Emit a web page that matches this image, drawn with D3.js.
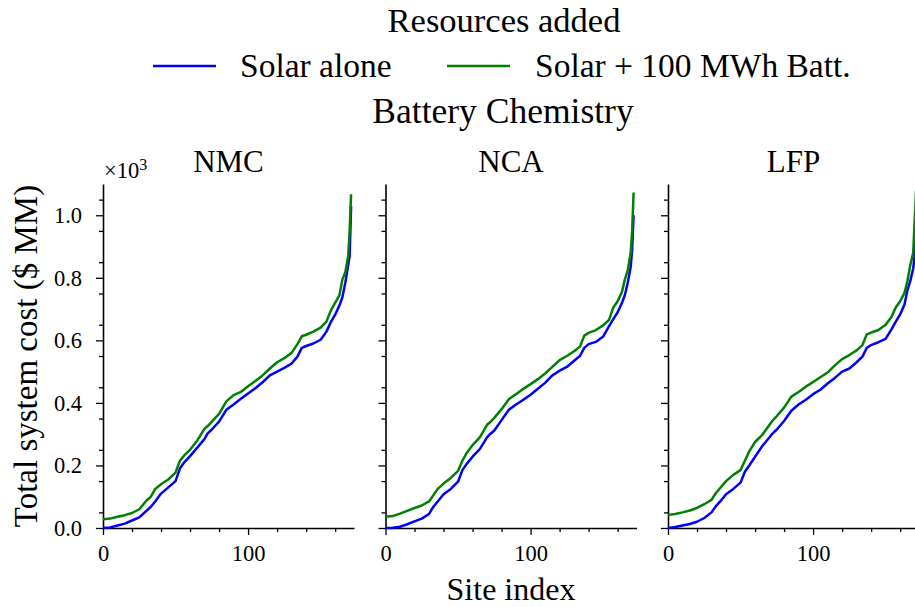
<!DOCTYPE html>
<html>
<head>
<meta charset="utf-8">
<script src="https://d3js.org/d3.v7.min.js"></script>
<style>
  body { margin: 0; background: #fff; }
  text { font-family: "Liberation Serif", "DejaVu Serif", serif; fill: #000; }
</style>
</head>
<body>
<svg width="915" height="607"></svg>
<script>
  // values (cost in thousands of $ MM)
  let chemistries = ["NMC", "NCA", "LFP"];
  let seriesNames = ["Solar alone", "Solar + 100 MWh Batt."];
  let seriesColors = ["#0000ff", "#008000"];
  let yTicks = [0, 0.2, 0.4, 0.6, 0.8, 1.0];
  let xTicks = [0, 100];

  let siteIndex = [0, 5, 10, 15, 20, 25, 30, 33, 36, 40, 45, 50, 53, 56, 60, 65, 70, 72, 75, 80, 85, 90,
    95, 100, 105, 110, 115, 120, 125, 130, 134, 137, 140, 145, 150, 154, 157, 160, 163, 165, 167, 169, 170, 171];

  let nmcSolar = [0.0, 0.002, 0.008, 0.014, 0.024, 0.034, 0.055, 0.068, 0.085, 0.11, 0.13, 0.15, 0.19, 0.21, 0.23, 0.257, 0.285,
    0.302, 0.315, 0.34, 0.378, 0.395, 0.413, 0.43, 0.447, 0.466, 0.488, 0.5, 0.512, 0.526, 0.548, 0.576,
    0.582, 0.59, 0.602, 0.628, 0.658, 0.682, 0.712, 0.738, 0.784, 0.84, 0.87, 1.03];
  let nmcBatt = [0.028, 0.03, 0.036, 0.041, 0.048, 0.06, 0.088, 0.1, 0.125, 0.14, 0.155, 0.177, 0.215, 0.232, 0.25, 0.28, 0.318,
    0.325, 0.34, 0.365, 0.405, 0.425, 0.435, 0.453, 0.47, 0.488, 0.51, 0.53, 0.543, 0.56, 0.588, 0.613,
    0.618, 0.628, 0.641, 0.66, 0.695, 0.72, 0.745, 0.795, 0.818, 0.87, 0.95, 1.067];
  let ncaSolar = [0.0, 0.001, 0.004, 0.012, 0.021, 0.03, 0.045, 0.068, 0.085, 0.108, 0.125, 0.148, 0.185, 0.205, 0.228, 0.252, 0.29,
    0.3, 0.312, 0.345, 0.378, 0.395, 0.41, 0.426, 0.445, 0.464, 0.488, 0.503, 0.515, 0.535, 0.55, 0.576,
    0.588, 0.595, 0.612, 0.645, 0.668, 0.69, 0.72, 0.745, 0.785, 0.835, 0.89, 1.0];
  let ncaBatt = [0.036, 0.038, 0.046, 0.055, 0.064, 0.072, 0.085, 0.105, 0.125, 0.142, 0.16, 0.183, 0.215, 0.24, 0.265, 0.29, 0.33,
    0.338, 0.352, 0.38, 0.412, 0.428, 0.445, 0.46, 0.476, 0.494, 0.515, 0.537, 0.55, 0.565, 0.58, 0.615,
    0.624, 0.633, 0.648, 0.665, 0.705, 0.725, 0.755, 0.795, 0.825, 0.88, 0.95, 1.073];
  let lfpSolar = [0.0, 0.003, 0.008, 0.013, 0.02, 0.032, 0.05, 0.07, 0.085, 0.108, 0.125, 0.145, 0.18, 0.2, 0.228, 0.262, 0.29,
    0.302, 0.315, 0.342, 0.375, 0.395, 0.41, 0.428, 0.442, 0.462, 0.48, 0.5, 0.51, 0.53, 0.548, 0.576,
    0.585, 0.594, 0.605, 0.635, 0.66, 0.683, 0.715, 0.76, 0.79, 0.83, 0.87, 1.0];
  let lfpBatt = [0.042, 0.045, 0.05, 0.056, 0.064, 0.076, 0.09, 0.112, 0.128, 0.15, 0.17, 0.185, 0.215, 0.245, 0.275, 0.298, 0.33,
    0.343, 0.358, 0.385, 0.42, 0.435, 0.452, 0.467, 0.482, 0.497, 0.52, 0.54, 0.553, 0.568, 0.585, 0.619,
    0.625, 0.633, 0.65, 0.675, 0.705, 0.725, 0.752, 0.79, 0.84, 0.88, 0.98, 1.08];

  let panelSeries = [[nmcSolar, nmcBatt], [ncaSolar, ncaBatt], [lfpSolar, lfpBatt]];

  let svg = d3.select("svg");

  let panelLeft = [103, 385.5, 668],
      panelWidth = 251,
      plotTop = 184,
      plotBottom = 528;

  let yScale = d3.scaleLinear().domain([0, 1.1]).range([plotBottom, plotTop]);

  // header: legend title, legend, suptitle
  svg.append("text").attr("x", 504).attr("y", 32).attr("text-anchor", "middle")
          .style("font-size", "34.5px").text("Resources added");

  let legendX = [[153, 216, 240], [447, 510, 535]];
  seriesNames.forEach(function (name, i) {
    svg.append("line")
            .attr("x1", legendX[i][0]).attr("x2", legendX[i][1])
            .attr("y1", 66).attr("y2", 66)
            .attr("stroke", seriesColors[i]).attr("stroke-width", 2.5);
    svg.append("text").attr("x", legendX[i][2]).attr("y", 77)
            .style("font-size", "33.5px").text(name);
  });

  svg.append("text").attr("x", 503).attr("y", 123).attr("text-anchor", "middle")
          .style("font-size", "35.5px").text("Battery Chemistry");

  chemistries.forEach(function (chem, p) {
    let xScale = d3.scaleLinear().domain([0, 173]).range([panelLeft[p], panelLeft[p] + panelWidth]);
    let g = svg.append("g");

    // minor ticks
    g.append("g").attr("transform", "translate(0," + plotBottom + ")")
            .call(d3.axisBottom(xScale).tickValues([20, 40, 60, 80, 120, 140, 160])
                    .tickSize(4).tickSizeOuter(0).tickFormat(""))
            .call(a => a.select(".domain").remove());
    g.append("g").attr("transform", "translate(" + panelLeft[p] + ",0)")
            .call(d3.axisLeft(yScale).tickValues(d3.range(1, 22, 2).map(d => d * 0.05))
                    .tickSize(4).tickSizeOuter(0).tickFormat(""))
            .call(a => a.select(".domain").remove());

    // major ticks + spines
    let xAxis = g.append("g").attr("transform", "translate(0," + plotBottom + ")")
            .call(d3.axisBottom(xScale).tickValues(xTicks).tickSize(7).tickSizeOuter(0).tickPadding(10));
    g.append("g").attr("transform", "translate(" + panelLeft[p] + ",0)")
            .call(d3.axisLeft(yScale).tickValues(yTicks).tickSize(7).tickSizeOuter(0).tickPadding(14)
                    .tickFormat(p === 0 ? d3.format(".1f") : ""));

    g.selectAll(".domain").attr("stroke", "#000").attr("stroke-width", 1.6);
    g.selectAll(".tick line").attr("stroke", "#000").attr("stroke-width", 1.3);
    g.selectAll(".tick text").style("font-size", "22.5px")
            .style("font-family", "'Liberation Serif', serif").attr("fill", "#000");
    xAxis.selectAll(".tick text").attr("dy", "0.71em");

    // the two cost curves, green drawn on top
    let line = d3.line()
            .x(function (d, i) { return xScale(siteIndex[i]); })
            .y(function (d) { return yScale(d); });

    panelSeries[p].forEach(function (vals, s) {
      g.append("path")
              .attr("d", line(vals))
              .attr("fill", "none")
              .attr("stroke", seriesColors[s])
              .attr("stroke-width", 2.5)
              .attr("stroke-linejoin", "round");
    });

    svg.append("text")
            .attr("x", panelLeft[p] + panelWidth / 2).attr("y", 172)
            .attr("text-anchor", "middle").style("font-size", "31px").text(chem);
  });

  // offset label on y axis
  let mult = svg.append("text").attr("x", 104).attr("y", 178).style("font-size", "22.5px");
  mult.append("tspan").text("\u00d710");
  mult.append("tspan").attr("dy", -8).style("font-size", "16px").text("3");

  svg.append("text")
          .attr("transform", "translate(37," + ((plotTop + plotBottom) / 2) + ") rotate(-90)")
          .attr("text-anchor", "middle").style("font-size", "33px")
          .text("Total system cost ($ MM)");

  svg.append("text").attr("x", 511).attr("y", 600).attr("text-anchor", "middle")
          .style("font-size", "32px").text("Site index");
</script>
</body>
</html>
